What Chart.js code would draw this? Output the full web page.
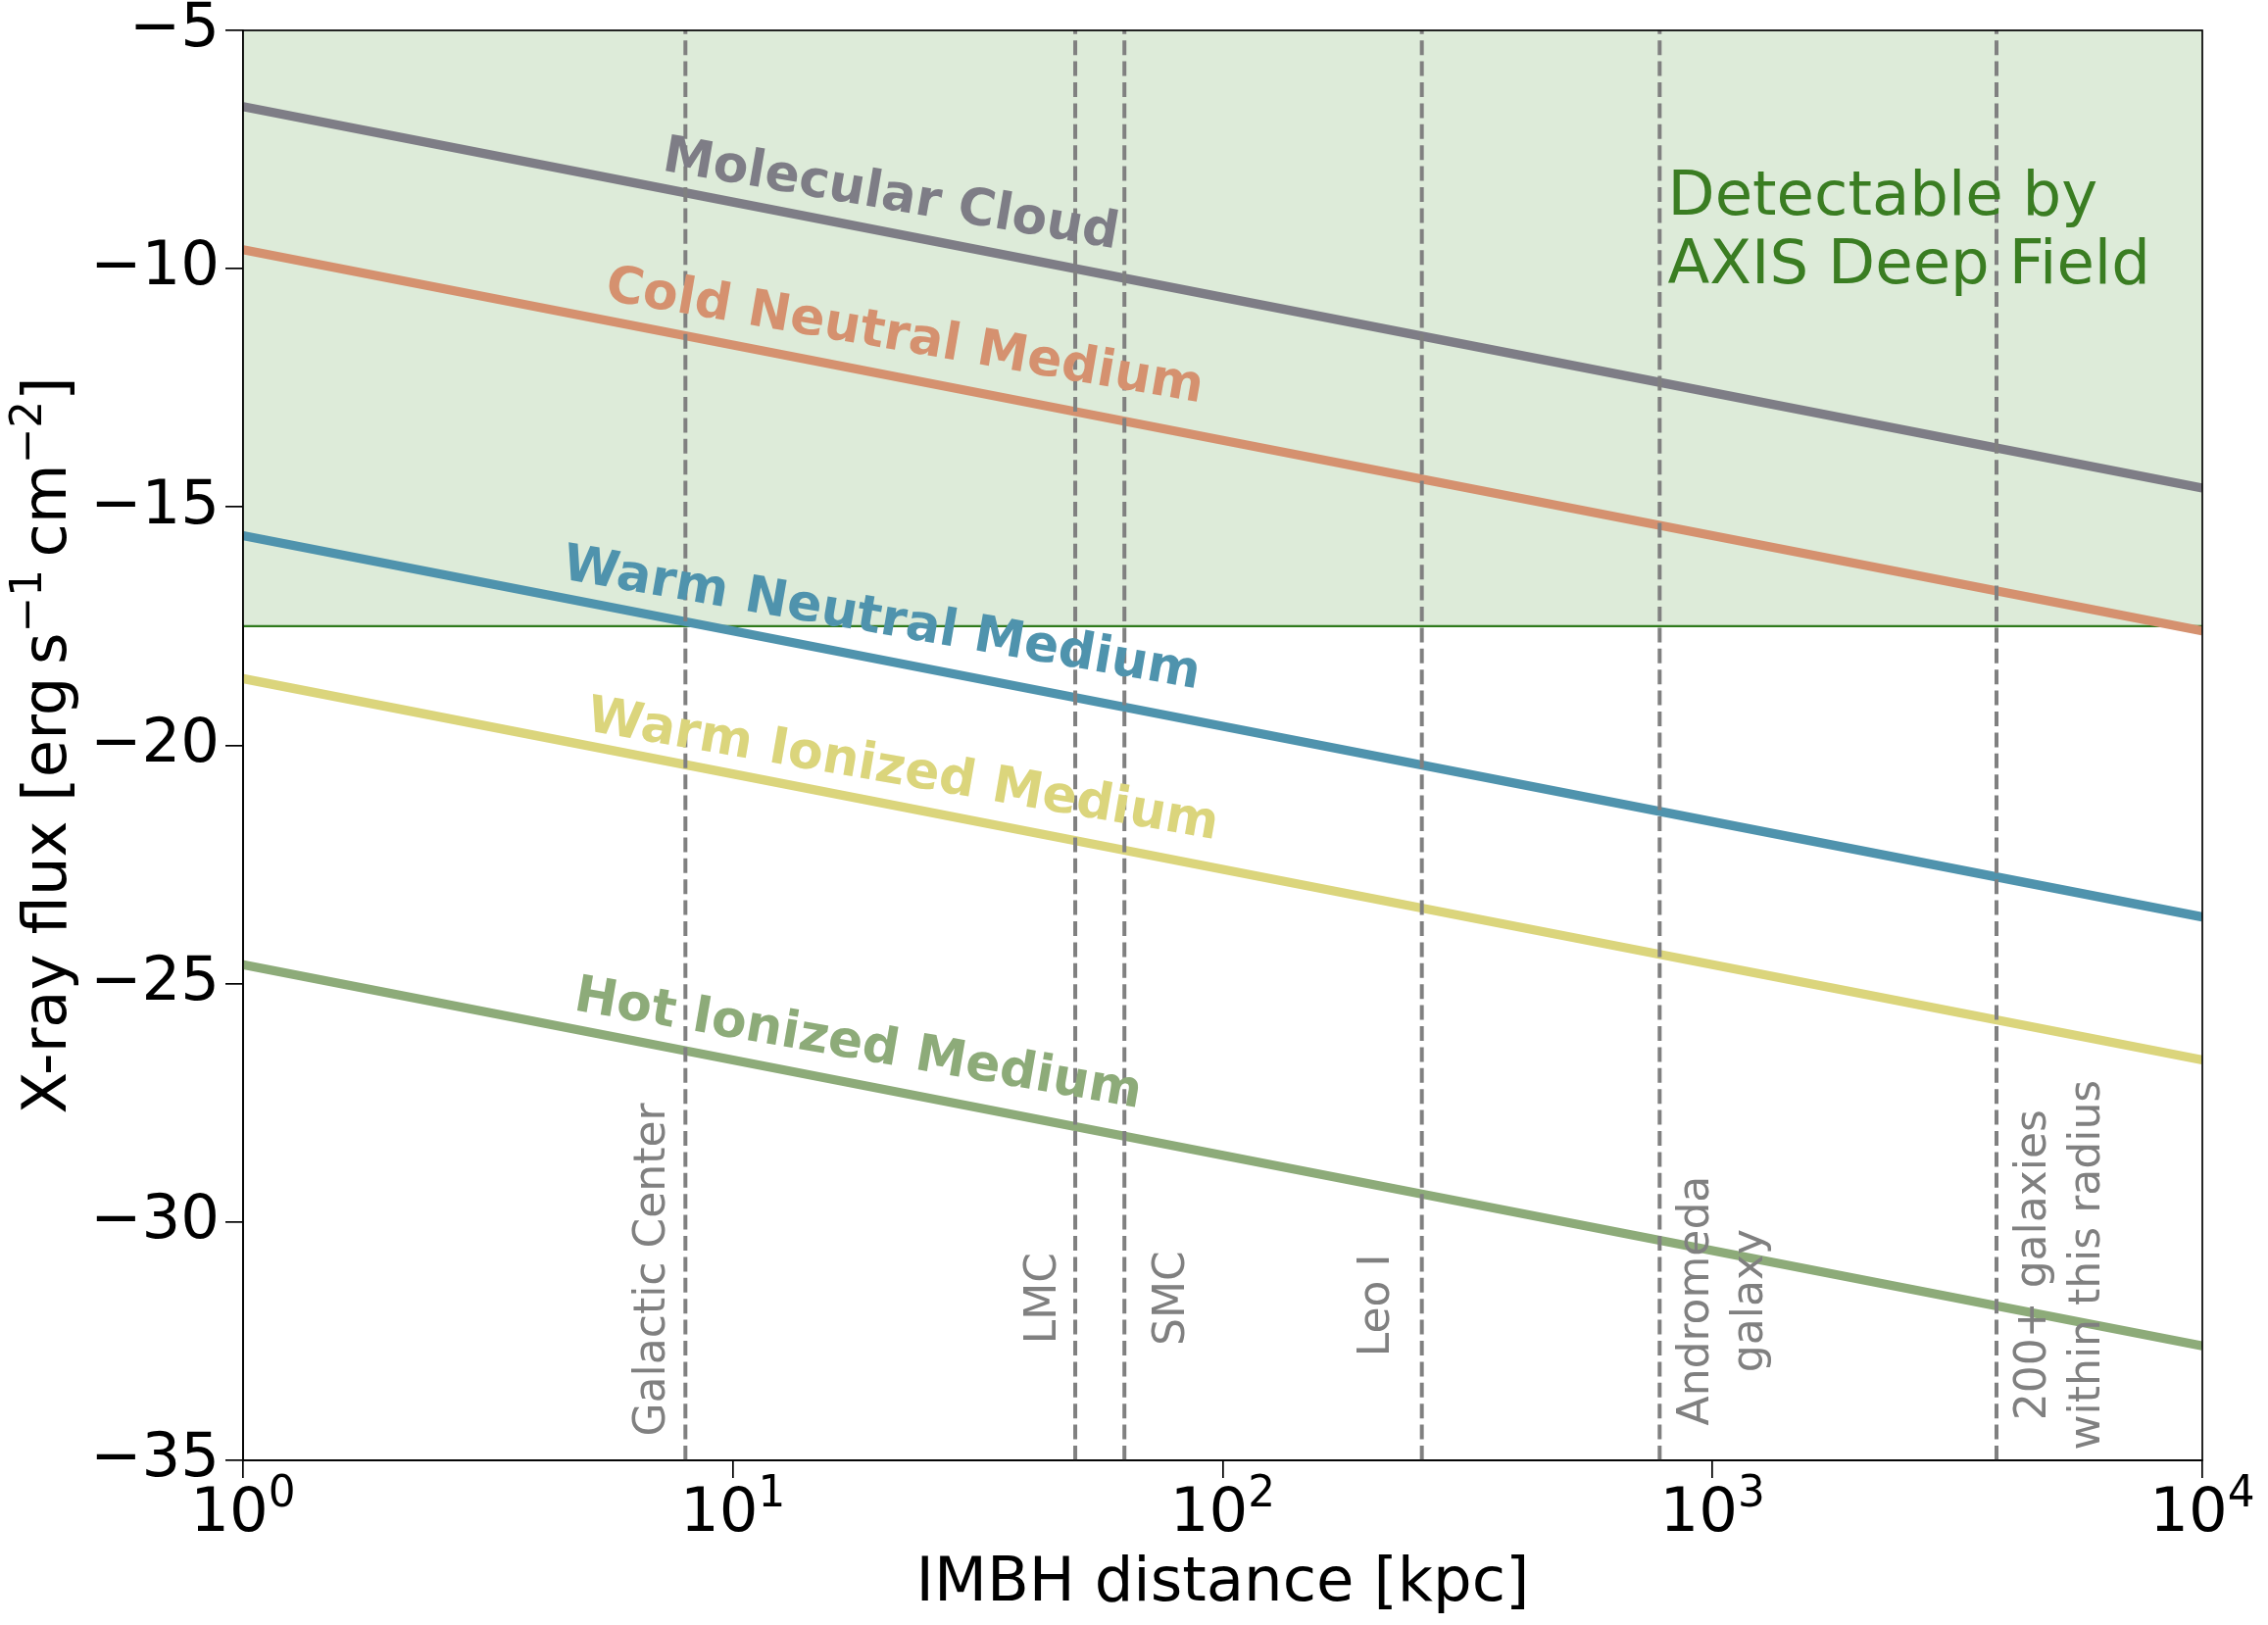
<!DOCTYPE html>
<html>
<head>
<meta charset="utf-8">
<script src="https://cdn.jsdelivr.net/npm/chart.js@4.4.1/dist/chart.umd.min.js"></script>
<style>
  html, body { margin: 0; padding: 0; background: #fff; }
  #wrap { width: 2314px; height: 1658px; }
</style>
</head>
<body>
<div id="wrap"><canvas id="chart" width="2314" height="1658"></canvas></div>
<script>
'use strict';

var distances = [1, 10, 100, 1000, 10000];

// log10 X-ray flux at those distances, one list per ISM phase
var molecularCloud = [-6.6, -8.6, -10.6, -12.6, -14.6];
var coldNeutral = [-9.6, -11.6, -13.6, -15.6, -17.6];
var warmNeutral = [-15.6, -17.6, -19.6, -21.6, -23.6];
var warmIonized = [-18.6, -20.6, -22.6, -24.6, -26.6];
var hotIonized = [-24.6, -26.6, -28.6, -30.6, -32.6];
var phaseNames = ['Molecular Cloud', 'Cold Neutral Medium', 'Warm Neutral Medium', 'Warm Ionized Medium', 'Hot Ionized Medium'];

// AXIS deep field sensitivity
var axisLimit = -17.5;
var axisText = ['Detectable by', 'AXIS Deep Field'];

// reference objects [kpc]
var markerNames = ['Galactic Center', 'LMC', 'SMC', 'Leo I', 'Andromeda\ngalaxy', '200+ galaxies\nwithin this radius'];
var markerKpc = [8, 50, 63, 255, 780, 3800];

// ticks
var xTickExp = [0, 1, 2, 3, 4];
var yTicks = [-35, -30, -25, -20, -15, -10, -5];

// styling
var phaseColors = ['#7e7d86', '#d5916f', '#4f93ad', '#dbd57c', '#8dab79'];
var fillColor = '#ddebd9';
var limitColor = '#2f7a1c';
var limitTextColor = '#3a7d22';
var markerColor = '#808080';
var FONT = '"DejaVu Sans", sans-serif';

// label placement (data coords for anchors, px for offsets)
var phaseLabelPos = [[21.0, -8.48], [22.4, -11.45], [20.1, -17.38], [22.2, -20.55], [18.0, -26.30]];
var phaseLabelAngle = 9.8 * Math.PI / 180;
var markerLabelY = [-31.0, -31.6, -31.6, -31.75, -31.65, -30.9];
var markerSide = [-1, -1, 1, -1, 1, 1];
var markerGap = [21, 20, 29, 34, 18, 18];
var axisTextPos = [810, -8.86];

Chart.defaults.font.family = FONT;

var datasets = [];

datasets.push({
  data: [{ x: distances[0], y: axisLimit }, { x: distances[distances.length - 1], y: axisLimit }],
  borderColor: limitColor,
  borderWidth: 2.3,
  backgroundColor: fillColor,
  fill: 'end',
  pointRadius: 0,
  order: 3
});

[molecularCloud, coldNeutral, warmNeutral, warmIonized, hotIonized].forEach(function (vals, i) {
  datasets.push({
    data: distances.map(function (d, j) { return { x: d, y: vals[j] }; }),
    borderColor: phaseColors[i],
    borderWidth: 9.3,
    fill: false,
    pointRadius: 0,
    tension: 0,
    order: 2
  });
});

markerKpc.forEach(function (d) {
  datasets.push({
    data: [{ x: d, y: yTicks[0] }, { x: d, y: yTicks[yTicks.length - 1] }],
    borderColor: markerColor,
    borderWidth: 4,
    borderDash: [15, 6.4],
    fill: false,
    pointRadius: 0,
    order: 1
  });
});

function drawSupText(ctx, base, sup, x, y, size) {
  ctx.font = size + 'px ' + FONT;
  var w1 = ctx.measureText(base).width;
  ctx.font = (size * 0.7) + 'px ' + FONT;
  var w2 = ctx.measureText(sup).width;
  var start = x - (w1 + w2) / 2;
  ctx.font = size + 'px ' + FONT;
  ctx.fillText(base, start, y);
  ctx.font = (size * 0.7) + 'px ' + FONT;
  ctx.fillText(sup, start + w1, y - 25);
}

var overlay = {
  id: 'overlay',
  afterDatasetsDraw: function (chart) {
    var ctx = chart.ctx;
    var a = chart.chartArea;
    var xs = chart.scales.x;
    var ys = chart.scales.y;
    ctx.save();

    // frame
    ctx.strokeStyle = '#000';
    ctx.lineWidth = 1.7;
    ctx.strokeRect(a.left, a.top, a.right - a.left, a.bottom - a.top);

    // curve names
    ctx.font = 'bold 52px ' + FONT;
    ctx.textAlign = 'center';
    ctx.textBaseline = 'middle';
    for (var i = 0; i < phaseNames.length; i++) {
      ctx.save();
      ctx.translate(xs.getPixelForValue(phaseLabelPos[i][0]), ys.getPixelForValue(phaseLabelPos[i][1]));
      ctx.rotate(phaseLabelAngle);
      ctx.fillStyle = phaseColors[i];
      ctx.fillText(phaseNames[i], 0, 0);
      ctx.restore();
    }

    // reference object names
    ctx.font = '44px ' + FONT;
    ctx.fillStyle = markerColor;
    ctx.textBaseline = 'alphabetic';
    for (var m = 0; m < markerNames.length; m++) {
      var lines = markerNames[m].split('\n');
      ctx.save();
      ctx.translate(xs.getPixelForValue(markerKpc[m]), ys.getPixelForValue(markerLabelY[m]));
      ctx.rotate(-Math.PI / 2);
      for (var k = 0; k < lines.length; k++) {
        var b = markerSide[m] < 0
          ? -markerGap[m] - (lines.length - 1 - k) * 55
          : markerGap[m] + 32 + k * 55;
        ctx.fillText(lines[k], 0, b);
      }
      ctx.restore();
    }

    // detection label
    ctx.font = '62.5px ' + FONT;
    ctx.fillStyle = limitTextColor;
    ctx.textAlign = 'left';
    var tx = xs.getPixelForValue(axisTextPos[0]);
    var ty = ys.getPixelForValue(axisTextPos[1]);
    ctx.fillText(axisText[0], tx, ty);
    ctx.fillText(axisText[1], tx, ty + 70);

    // x tick labels 10^n
    ctx.fillStyle = '#000';
    ctx.textAlign = 'left';
    xTickExp.forEach(function (e) {
      drawSupText(ctx, '10', String(e), xs.getPixelForValue(Math.pow(10, e)), a.bottom + 72, 62.5);
    });

    // x title
    ctx.font = '62.5px ' + FONT;
    ctx.textAlign = 'center';
    ctx.fillText('IMBH distance [kpc]', (a.left + a.right) / 2, a.bottom + 143);

    // y title with superscripts
    var parts = [['X-ray flux [erg', 0], ['\u2009', 0], ['s', 0], ['\u22121', 1], ['\u2009', 0], ['cm', 0], ['\u22122', 1], [']', 0]];
    var widths = parts.map(function (p) {
      ctx.font = (p[1] ? 43.75 : 62.5) + 'px ' + FONT;
      return ctx.measureText(p[0]).width;
    });
    var total = widths.reduce(function (s, w) { return s + w; }, 0);
    ctx.save();
    ctx.translate(67, (a.top + a.bottom) / 2);
    ctx.rotate(-Math.PI / 2);
    ctx.textAlign = 'left';
    var cx = -total / 2;
    parts.forEach(function (p, i) {
      ctx.font = (p[1] ? 43.75 : 62.5) + 'px ' + FONT;
      ctx.fillText(p[0], cx, p[1] ? -25 : 0);
      cx += widths[i];
    });
    ctx.restore();

    ctx.restore();
  }
};

var canvas = document.getElementById('chart');
new Chart(canvas.getContext('2d'), {
  type: 'line',
  data: { datasets: datasets },
  options: {
    responsive: false,
    devicePixelRatio: 1,
    animation: false,
    events: [],
    layout: { padding: { top: 31, right: 67, left: 0, bottom: 0 } },
    plugins: { legend: { display: false }, tooltip: { enabled: false } },
    scales: {
      x: {
        type: 'logarithmic',
        min: 1,
        max: 10000,
        afterBuildTicks: function (scale) {
          scale.ticks = xTickExp.map(function (e) { return { value: Math.pow(10, e) }; });
        },
        afterFit: function (scale) {
          scale.height = 168;
          scale.paddingLeft = 0;
          scale.paddingRight = 0;
        },
        ticks: { display: false },
        grid: { drawOnChartArea: false, drawTicks: true, tickLength: 18, color: '#000', lineWidth: 1.7 },
        border: { display: true, color: '#000', width: 1.7 }
      },
      y: {
        type: 'linear',
        min: yTicks[0],
        max: yTicks[yTicks.length - 1],
        afterBuildTicks: function (scale) {
          scale.ticks = yTicks.map(function (v) { return { value: v }; });
        },
        afterFit: function (scale) {
          scale.width = 248;
          scale.paddingTop = 0;
          scale.paddingBottom = 0;
        },
        ticks: {
          padding: 6,
          color: '#000',
          font: { size: 62.5 },
          callback: function (v) { return v < 0 ? '\u2212' + (-v) : String(v); }
        },
        grid: { drawOnChartArea: false, drawTicks: true, tickLength: 18, color: '#000', lineWidth: 1.7 },
        border: { display: true, color: '#000', width: 1.7 }
      }
    }
  },
  plugins: [overlay]
});
</script>
</body>
</html>
